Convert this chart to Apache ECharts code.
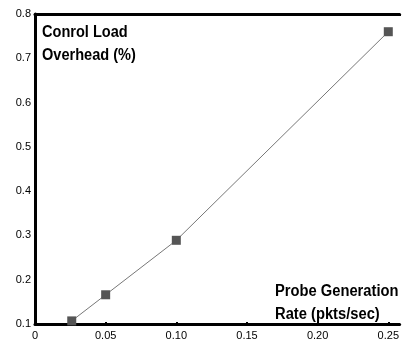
<!DOCTYPE html>
<html><head><meta charset="utf-8">
<script src="https://cdn.jsdelivr.net/npm/echarts@6/dist/echarts.min.js"></script>
<style>html,body{margin:0;padding:0;background:#fff}#c{width:402px;height:343px}</style>
</head><body><div id="c"></div>
<script>
const rates = [0.026, 0.05, 0.10, 0.25];
const overhead = [0.107, 0.166, 0.289, 0.760];
const xTickLabels = ['0', '0.05', '0.10', '0.15', '0.20', '0.25'];
const yTickLabels = ['0.1', '0.2', '0.3', '0.4', '0.5', '0.6', '0.7', '0.8'];
const yTitle = ['Conrol Load', 'Overhead (%)'];
const xTitle = ['Probe Generation', 'Rate (pkts/sec)'];

const FONT = '"Liberation Sans Narrow", "Arial Narrow", "Liberation Sans", sans-serif';
const chart = echarts.init(document.getElementById('c'), null, {renderer: 'canvas'});
const xl = v => { const i = Math.round(v / 0.05); return Math.abs(v - i * 0.05) < 1e-6 && i < xTickLabels.length ? xTickLabels[i] : ''; };
const yl = v => { const i = Math.round((v - 0.1) / 0.1); return Math.abs(v - 0.1 - i * 0.1) < 1e-6 && i >= 0 && i < yTickLabels.length ? yTickLabels[i] : ''; };
const axisLine = {show: true, lineStyle: {color: '#000', width: 3}};
chart.setOption({
  animation: false,
  grid: {left: 35, top: 14, right: 0, bottom: 19},
  xAxis: [{
    type: 'value', min: 0, max: 0.258, interval: 0.05, position: 'bottom',
    axisLine, splitLine: {show: false},
    axisTick: {show: true, inside: true, length: 2, lineStyle: {color: '#000', width: 2}},
    axisLabel: {formatter: xl, color: '#000', fontFamily: FONT, fontSize: 11, margin: 6, showMaxLabel: false}
  }, {
    type: 'value', min: 0, max: 0.258, interval: 0.05, position: 'top',
    axisLine, splitLine: {show: false},
    axisTick: {show: true, inside: true, length: 2, lineStyle: {color: '#000', width: 2}},
    axisLabel: {show: false}
  }],
  yAxis: {
    type: 'value', min: 0.1, max: 0.8, interval: 0.1,
    axisLine, splitLine: {show: false},
    axisTick: {show: true, inside: true, length: 2, lineStyle: {color: '#000', width: 2}},
    axisLabel: {formatter: yl, color: '#000', fontFamily: FONT, fontSize: 11, margin: 4}
  },
  graphic: [
    {type: 'text', x: 42, y: 21, scaleX: 0.91, style: {text: yTitle.join('\n'), font: 'bold 16px ' + FONT, fill: '#000', lineHeight: 23}},
    {type: 'text', x: 275, y: 280, scaleX: 0.92, style: {text: xTitle.join('\n'), font: 'bold 16px ' + FONT, fill: '#000', lineHeight: 23}}
  ],
  series: [{
    type: 'line', data: rates.map((r, i) => [r, overhead[i]]),
    symbol: 'rect', symbolSize: 9,
    itemStyle: {color: '#555'},
    lineStyle: {color: '#777', width: 1}
  }]
});
</script></body></html>
